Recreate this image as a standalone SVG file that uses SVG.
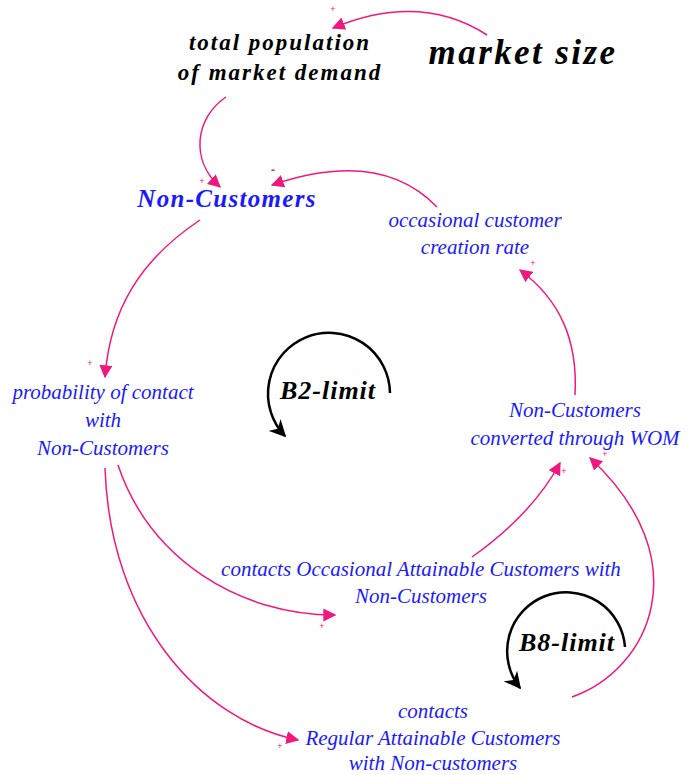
<svg xmlns="http://www.w3.org/2000/svg" width="690" height="775" viewBox="0 0 690 775">
<style>
.t{font-family:"Liberation Serif",serif;font-style:italic;text-anchor:middle}
.blue{fill:#1a1aff}
.blk{fill:#000}
.b{font-weight:bold}
.c{fill:none;stroke:#f2177f;stroke-width:1.5}
.loop{fill:none;stroke:#000;stroke-width:2.5}
.pol{font-family:"Liberation Sans",sans-serif;font-size:9px;fill:#f2177f;text-anchor:middle}
</style>
<defs>
<marker id="a" viewBox="0 0 10 10" refX="9" refY="5" markerWidth="13" markerHeight="13" markerUnits="userSpaceOnUse" orient="auto"><path d="M0,0 L10,5 L0,10 Z" fill="#f2177f"/></marker>
<marker id="ab" viewBox="0 0 10 10" refX="9" refY="5" markerWidth="17" markerHeight="17" markerUnits="userSpaceOnUse" orient="auto"><path d="M0,0 L10,5 L0,10 L3,5 Z" fill="#000"/></marker>
</defs>
<g id="connectors">
<path class="c" marker-end="url(#a)" d="M487,35 Q420,-8 333,28"/>
<path class="c" marker-end="url(#a)" d="M226,97 C195,118 190,160 220,187"/>
<path class="c" marker-end="url(#a)" d="M437,207 Q380,148 272,185"/>
<path class="c" marker-end="url(#a)" d="M575,395 C578,340 560,300 520,270"/>
<path class="c" marker-end="url(#a)" d="M200,220 C140,260 110,310 105,377"/>
<path class="c" marker-end="url(#a)" d="M118,465 C150,560 240,615 335,615"/>
<path class="c" marker-end="url(#a)" d="M105,468 C110,620 200,720 298,740"/>
<path class="c" marker-end="url(#a)" d="M472,557 C510,530 540,500 560,463"/>
<path class="c" marker-end="url(#a)" d="M572,697 C650,670 700,560 590,458"/>
</g>
<g id="polarities">
<text class="pol" x="333" y="12">+</text>
<text class="pol" x="202" y="184">+</text>
<text class="pol" x="273" y="174" style="font-size:12px;font-weight:bold">-</text>
<text class="pol" x="533" y="266">+</text>
<text class="pol" x="90" y="366">+</text>
<text class="pol" x="322" y="629">+</text>
<text class="pol" x="280" y="749">+</text>
<text class="pol" x="564" y="474">+</text>
<text class="pol" x="605" y="457">+</text>
</g>
<g id="loop-B2">
<path class="loop" marker-end="url(#ab)" d="M390,393 A61,61 0 1 0 285,436"/>
<text class="t blk b" x="328" y="399" font-size="26" letter-spacing="1">B2-limit</text>
</g>
<g id="loop-B8">
<path class="loop" marker-end="url(#ab)" d="M625,647 A59,59 0 1 0 520,688"/>
<text class="t blk b" x="567" y="651" font-size="26" letter-spacing="1">B8-limit</text>
</g>
<g id="market-size"><text class="t blk b" x="523" y="64" font-size="35" letter-spacing="2.4">market size</text></g>
<g id="total-population"><text class="t blk b" x="280" y="50" font-size="23" letter-spacing="2">total population</text><text class="t blk b" x="280" y="80" font-size="23" letter-spacing="2">of market demand</text></g>
<g id="non-customers"><text class="t blue b" x="227" y="207" font-size="25" letter-spacing="1.3">Non-Customers</text></g>
<g id="occasional-rate"><text class="t blue" x="475" y="227" font-size="21">occasional customer</text><text class="t blue" x="475" y="254" font-size="21">creation rate</text></g>
<g id="probability"><text class="t blue" x="103" y="399" font-size="21">probability of contact</text><text class="t blue" x="103" y="427" font-size="21">with</text><text class="t blue" x="103" y="455" font-size="21">Non-Customers</text></g>
<g id="wom"><text class="t blue" x="575" y="417" font-size="21">Non-Customers</text><text class="t blue" x="575" y="445" font-size="21">converted through WOM</text></g>
<g id="contacts-occasional"><text class="t blue" x="421" y="576" font-size="21">contacts Occasional Attainable Customers with</text><text class="t blue" x="421" y="603" font-size="21">Non-Customers</text></g>
<g id="contacts-regular"><text class="t blue" x="433" y="718" font-size="21">contacts</text><text class="t blue" x="433" y="745" font-size="21">Regular Attainable Customers</text><text class="t blue" x="433" y="770" font-size="21">with Non-customers</text></g>
</svg>
